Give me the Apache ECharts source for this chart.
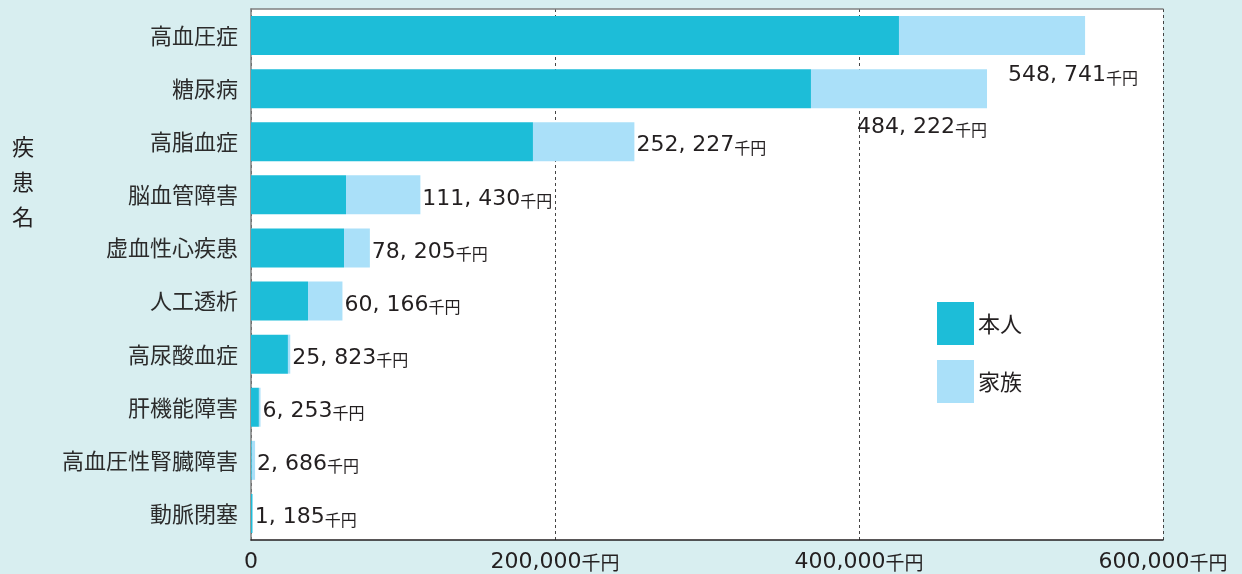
<!DOCTYPE html>
<html>
<head>
<meta charset="utf-8">
<script src="https://cdn.jsdelivr.net/npm/echarts@6/dist/echarts.min.js"></script>
<style>
  html, body { margin: 0; padding: 0; background: #d8eef0; }
  #main { width: 1242px; height: 574px; }
</style>
</head>
<body>
<div id="main"></div>
<script>
var categories = ['高血圧症', '糖尿病', '高脂血症', '脳血管障害', '虚血性心疾患', '人工透析', '高尿酸血症', '肝機能障害', '高血圧性腎臓障害', '動脈閉塞'];
var totals = [548741, 484222, 252227, 111430, 78205, 60166, 25823, 6253, 2686, 1185];
var honnin = [426300, 368400, 185500, 62500, 61200, 37500, 24300, 5200, 500, 1000];
var kazoku = totals.map(function (t, i) { return t - honnin[i]; });

var cjk = '"Noto Sans CJK JP", "Noto Sans", sans-serif';
var num = '"DejaVu Sans", "Noto Sans", sans-serif';
var dark = '#231f20';

// 上位2件はラベルをバーの下に置く
var labelOffsets = [[-79, 40], [-132, 39]];

function fmt(v) {
  return v.toLocaleString('en-US').replace(/,/g, ', ');
}

var kazokuData = kazoku.map(function (v, i) {
  var item = { value: v };
  if (labelOffsets[i]) {
    item.label = { offset: labelOffsets[i] };
  }
  return item;
});

var option = {
  backgroundColor: '#d8eef0',
  textStyle: { fontFamily: cjk },
  grid: {
    left: 251, right: 79, top: 9, bottom: 34,
    show: true, backgroundColor: '#ffffff', borderWidth: 0
  },
  legend: {
    orient: 'vertical',
    left: 937, top: 302,
    padding: 0,
    itemWidth: 37, itemHeight: 43, itemGap: 15,
    icon: 'rect',
    textStyle: { fontSize: 22, color: dark, fontFamily: cjk, padding: [0, 0, 0, -1] },
    data: ['本人', '家族']
  },
  graphic: [{
    type: 'text',
    left: 12, top: 129,
    style: { text: '疾\n患\n名', fontSize: 22, lineHeight: 35, fill: dark, fontFamily: cjk }
  }],
  xAxis: [{
    type: 'value',
    min: 0, max: 600000, interval: 200000,
    axisLine: { show: true, lineStyle: { color: dark, width: 1.5 } },
    axisTick: { show: false },
    axisLabel: {
      color: dark, margin: 11,
      formatter: function (v) {
        return v === 0 ? '{n|0}' : '{n|' + v.toLocaleString('en-US') + '}{u|千円}';
      },
      rich: {
        n: { fontSize: 22, color: dark, fontFamily: num },
        u: { fontSize: 19, color: dark, fontFamily: cjk, padding: [2, 0, 0, 0] }
      }
    },
    splitLine: { show: true, lineStyle: { color: '#444', type: [3, 3], width: 1 } }
  }, {
    type: 'value', position: 'top',
    min: 0, max: 600000,
    axisLine: { show: true, lineStyle: { color: '#808080', width: 1.5 } },
    axisTick: { show: false }, axisLabel: { show: false }, splitLine: { show: false }
  }],
  yAxis: {
    type: 'category',
    inverse: true,
    data: categories,
    axisLine: { show: true, lineStyle: { color: '#808080', width: 1.5 } },
    axisTick: { show: false },
    axisLabel: { fontSize: 22, color: '#2b2b2b', margin: 13, fontFamily: cjk }
  },
  series: [{
    name: '本人',
    type: 'bar',
    stack: 'total',
    barWidth: 39,
    itemStyle: { color: '#1dbdd8' },
    data: honnin
  }, {
    name: '家族',
    type: 'bar',
    stack: 'total',
    barWidth: 39,
    itemStyle: { color: '#aae0f9' },
    label: {
      show: true,
      position: 'right',
      distance: 2,
      offset: [0, 4],
      formatter: function (p) { return '{v|' + fmt(totals[p.dataIndex]) + '}{u|千円}'; },
      rich: {
        v: { fontSize: 22, color: dark, fontFamily: num },
        u: { fontSize: 16, color: dark, fontFamily: cjk, padding: [4, 0, 0, 0] }
      }
    },
    data: kazokuData
  }]
};

echarts.init(document.getElementById('main')).setOption(option);
</script>
</body>
</html>
